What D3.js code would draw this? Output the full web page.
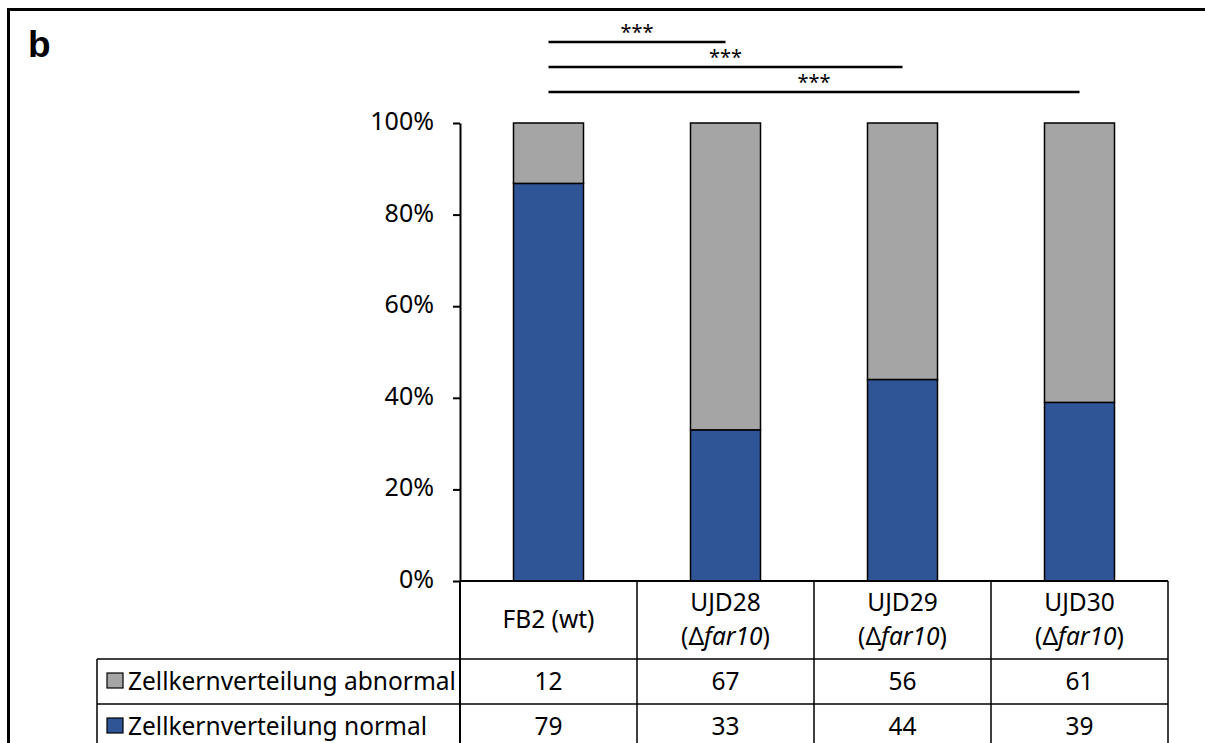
<!DOCTYPE html>
<html>
<head>
<meta charset="utf-8">
<script src="https://cdn.jsdelivr.net/npm/d3@7"></script>
<style>
  html, body { margin: 0; padding: 0; background: #fff; }
  svg { display: block; }
  text { font-family: "Noto Sans", "Open Sans", sans-serif; fill: #000; }
</style>
</head>
<body>
<svg id="chart" width="1205" height="743"></svg>
<script>
// ---- data ----
const categories = ["FB2 (wt)", "UJD28", "UJD29", "UJD30"];
const genotypes = ["", "far10", "far10", "far10"];
const seriesNames = ["Zellkernverteilung abnormal", "Zellkernverteilung normal"];
const abnormal = [12, 67, 56, 61];
const normal = [79, 33, 44, 39];
const yTicks = [0, 0.2, 0.4, 0.6, 0.8, 1.0];
const sigPairs = [[0, 1], [0, 2], [0, 3]];
const sigLabels = ["***", "***", "***"];
const panelLabel = "b";

// ---- style ----
const colors = { normal: "#2F5597", abnormal: "#A5A5A5" };

const svg = d3.select("#chart");

// frame
svg.append("line").attr("x1", 8.5).attr("x2", 8.5).attr("y1", 8).attr("y2", 743)
  .attr("stroke", "#000").attr("stroke-width", 3);
svg.append("line").attr("x1", 7).attr("x2", 1205).attr("y1", 9.5).attr("y2", 9.5)
  .attr("stroke", "#000").attr("stroke-width", 3);

svg.append("text").attr("x", 28).attr("y", 57)
  .style("font-family", "'Liberation Sans', Arial, sans-serif")
  .style("font-weight", "bold").style("font-size", "37px").text(panelLabel);

// scales
const x = d3.scaleBand().domain(categories).range([460, 1168]).paddingInner(0).paddingOuter(0);
const y = d3.scaleLinear().domain([0, 1]).range([581, 123]);
const barW = 70;

// percent data
const rows = categories.map((c, i) => {
  const tot = normal[i] + abnormal[i];
  return { cat: c, normal: normal[i] / tot, abnormal: abnormal[i] / tot };
});
const stack = d3.stack().keys(["normal", "abnormal"])(rows);

const g = svg.append("g");
stack.forEach(layer => {
  g.selectAll(null).data(layer).enter().append("rect")
    .attr("x", d => x(d.data.cat) + x.bandwidth() / 2 - barW / 2)
    .attr("y", d => y(d[1]))
    .attr("width", barW)
    .attr("height", d => y(d[0]) - y(d[1]))
    .attr("fill", colors[layer.key])
    .attr("stroke", "#000").attr("stroke-width", 1.5);
});

// y axis
const yAxis = d3.axisLeft(y).tickValues(yTicks).tickFormat(d3.format(".0%"))
  .tickSize(7).tickSizeOuter(0).tickPadding(19);
const ax = svg.append("g").attr("transform", "translate(460,0)").call(yAxis);
ax.select(".domain").attr("stroke", "#000").attr("stroke-width", 2);
ax.selectAll(".tick line").attr("stroke", "#000").attr("stroke-width", 2);
ax.selectAll(".tick text").style("font-family", "'Noto Sans', sans-serif")
  .style("font-size", "25px").attr("fill", "#000").attr("dy", "0.26em");

// table
const tbl = svg.append("g").attr("stroke", "#000").attr("stroke-width", 1.5);
const tLeft = 97, tRight = x.range()[1], tTop = y(0), hdrBottom = 659, rowH = 45;
tbl.append("line").attr("x1", x.range()[0]).attr("x2", x.range()[0]).attr("y1", tTop).attr("y2", 743).attr("stroke-width", 2);
tbl.append("line").attr("x1", x.range()[0]).attr("x2", tRight).attr("y1", tTop).attr("y2", tTop).attr("stroke-width", 2);
[hdrBottom, hdrBottom + rowH].forEach(yy => {
  tbl.append("line").attr("x1", tLeft).attr("x2", tRight).attr("y1", yy).attr("y2", yy);
});
tbl.append("line").attr("x1", tLeft).attr("x2", tLeft).attr("y1", hdrBottom).attr("y2", 743);
categories.forEach(c => {
  const xx = x(c) + x.bandwidth();
  tbl.append("line").attr("x1", xx).attr("x2", xx).attr("y1", tTop).attr("y2", 743);
});

// header labels
const fs = "24.5px";
categories.forEach((c, i) => {
  const cx = x(c) + x.bandwidth() / 2;
  if (!genotypes[i]) {
    svg.append("text").attr("x", cx).attr("y", 628).attr("text-anchor", "middle")
      .style("font-size", fs).text(c);
  } else {
    svg.append("text").attr("x", cx).attr("y", 611).attr("text-anchor", "middle")
      .style("font-size", fs).text(c);
    const t = svg.append("text").attr("x", cx).attr("y", 645).attr("text-anchor", "middle")
      .style("font-size", fs);
    t.append("tspan").text("(\u0394");
    t.append("tspan").style("font-style", "italic").text(genotypes[i]);
    t.append("tspan").text(")");
  }
});

// data rows
const rowData = [abnormal, normal];
const rowColors = [colors.abnormal, colors.normal];
rowData.forEach((vals, r) => {
  const base = hdrBottom + r * rowH;
  svg.append("rect").attr("x", 107).attr("y", base + 14).attr("width", 16).attr("height", 15)
    .attr("fill", rowColors[r]).attr("stroke", "#000").attr("stroke-width", 1.2);
  svg.append("text").attr("x", 128).attr("y", base + 31).style("font-size", fs).text(seriesNames[r]);
  vals.forEach((v, i) => {
    svg.append("text").attr("x", x(categories[i]) + x.bandwidth() / 2).attr("y", base + 31)
      .attr("text-anchor", "middle").style("font-size", fs).text(v);
  });
});

// significance bars
const sigY = [42, 67, 92];
sigPairs.forEach((p, k) => {
  const x1 = x(categories[p[0]]) + x.bandwidth() / 2;
  const x2 = x(categories[p[1]]) + x.bandwidth() / 2;
  svg.append("line").attr("x1", x1).attr("x2", x2).attr("y1", sigY[k]).attr("y2", sigY[k])
    .attr("stroke", "#000").attr("stroke-width", 2.5);
  svg.append("text").attr("x", (x1 + x2) / 2).attr("y", sigY[k] - 3).attr("text-anchor", "middle")
    .style("font-size", "20px").text(sigLabels[k]);
});
</script>
</body>
</html>
